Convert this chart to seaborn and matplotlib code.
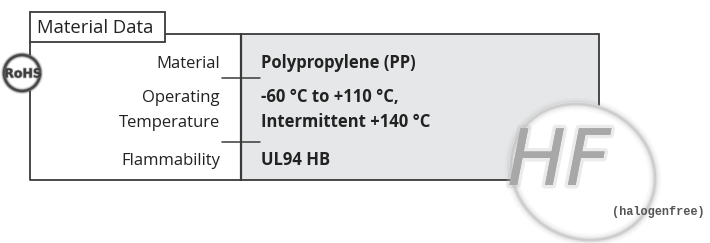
import matplotlib
matplotlib.use("Agg")
import matplotlib.pyplot as plt
import matplotlib.patches as mpatches
import matplotlib.patheffects as pe
import seaborn as sns

# table content
title = "Material Data"
row_labels = [["Material"], ["Operating", "Temperature"], ["Flammability"]]
row_values = [["Polypropylene (PP)"], ["-60 °C to +110 °C,", "Intermittent +140 °C"], ["UL94 HB"]]
rohs_text = "RoHS"
hf_text = "HF"
hf_caption = "(halogenfree)"

sns.set_theme(style="white")
plt.rcParams['font.family'] = ['Open Sans', 'DejaVu Sans']

W, H = 710, 243
fig = plt.figure(figsize=(7.1, 2.43), dpi=100)
ax = fig.add_axes([0, 0, 1, 1])
ax.set_xlim(0, W)
ax.set_ylim(H, 0)
ax.axis("off")

line_c = "#3a3a3a"
fill_c = "#e6e7e8"
text_c = "#222222"

# table frame (pixel layout)
left, right, top, bottom, split = 30, 599, 34, 180, 241
ax.add_patch(mpatches.Rectangle((split, top), right - split, bottom - top,
                                facecolor=fill_c, edgecolor=line_c, lw=1.3, zorder=1))
ax.plot([left, left, split], [42, bottom, bottom], color=line_c, lw=1.3, zorder=2)
ax.plot([165, split], [top, top], color=line_c, lw=1.3, zorder=2)
ax.plot([split, split], [top, bottom], color=line_c, lw=1.6, zorder=2)

# title tab
ax.add_patch(mpatches.Rectangle((left, 12), 165 - left, 30, facecolor="white",
                                edgecolor=line_c, lw=1.3, zorder=3))
ax.text(37, 33, title, fontsize=13.3, color=text_c, va="baseline", ha="left", zorder=4)

# rows
baselines = [[68], [102, 127], [165]]
for labels, values, bls in zip(row_labels, row_values, baselines):
    for lab, bl in zip(labels, bls):
        ax.text(220, bl, lab, fontsize=12, color=text_c, ha="right", va="baseline")
    for val, bl in zip(values, bls):
        ax.text(261, bl, val, fontsize=12, fontweight="bold", color=text_c,
                ha="left", va="baseline")

# row separators
for y in [78, 142]:
    ax.plot([222, 260], [y, y], color=line_c, lw=1.1, zorder=2)

# RoHS badge
cx, cy, r = 22, 73, 19.5
ax.add_patch(mpatches.Circle((cx, cy), r, facecolor="white", edgecolor="none", zorder=5))
for k, a in zip([4.5, 3, 1.8], [0.15, 0.35, 0.85]):
    ax.add_patch(mpatches.Circle((cx, cy), r - 1.5, facecolor="none",
                                 edgecolor="#383838", lw=k, alpha=a, zorder=6))
ax.text(cx + 1, cy + 1, rohs_text, fontsize=9, fontweight="bold", color="#3e3e3e",
        ha="center", va="center", family=["Liberation Sans Narrow", "DejaVu Sans"],
        path_effects=[pe.withStroke(linewidth=1.2, foreground="#777777", alpha=0.5)],
        zorder=7)

# HF badge
hx, hy = 583, 172
ax.add_patch(mpatches.Ellipse((hx, hy), 152, 136, angle=30, facecolor="white",
                              edgecolor="none", zorder=5))
for k, a in zip([9, 6, 3.5, 1.8], [0.05, 0.09, 0.16, 0.28]):
    ax.add_patch(mpatches.Ellipse((hx, hy), 148, 132, angle=30, facecolor="none",
                                  edgecolor="#9a9a9a", lw=k, alpha=a, zorder=6))
ax.text(559, 163, hf_text, fontsize=56, style="italic",
        color="#a8a8a8", ha="center", va="center",
        family=["Liberation Sans Narrow", "DejaVu Sans"],
        path_effects=[pe.withStroke(linewidth=5, foreground="#bdbdbd", alpha=0.3),
                      pe.Normal()],
        zorder=7)
ax.text(658, 212, hf_caption, fontsize=8.6, color="#555555", ha="center", va="center",
        family=["Liberation Mono"], fontweight="bold", zorder=7)

fig.savefig("out.png", dpi=100)
